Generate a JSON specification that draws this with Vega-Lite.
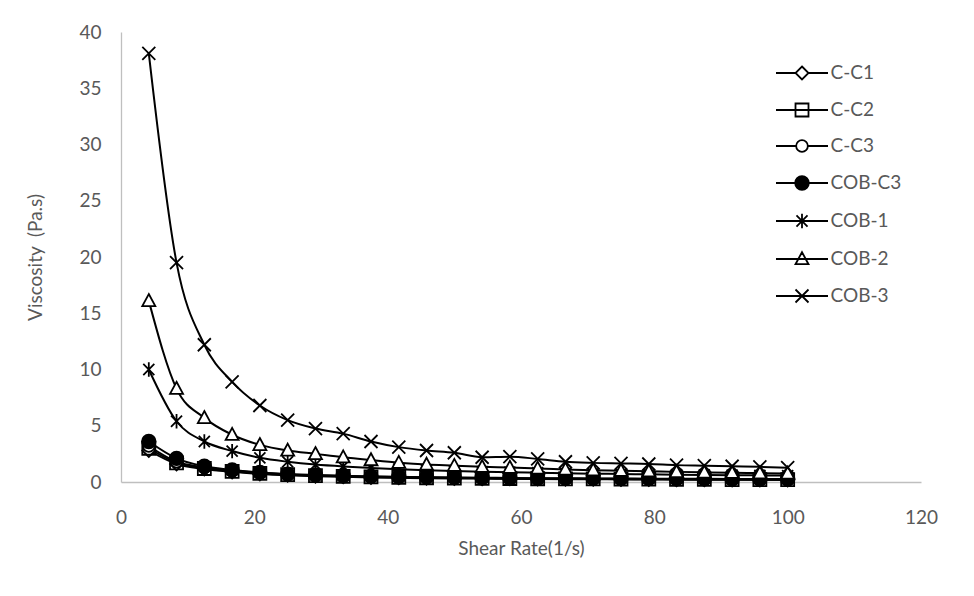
{
 "$schema": "https://vega.github.io/schema/vega-lite/v6.json",
 "width": 800,
 "height": 450,
 "autosize": {"type": "none"},
 "padding": {"left": 121, "top": 32, "right": 53, "bottom": 114},
 "background": "white",
 "config": {"view": {"stroke": null}, "font": "Lato",
  "legend": {"orient": "none", "legendX": 652, "legendY": 31.5, "title": null, "symbolSize": 169, "symbolStrokeColor": "black", "symbolStrokeWidth": 1.8, "labelFontSize": 19, "labelColor": "#595959", "rowPadding": 16, "symbolOffset": 19.5, "labelOffset": 19, "padding": 0}
 },
 "data": {"values": [
  {"s":"C-C1","x":4.17,"y":2.8},{"s":"C-C1","x":8.33,"y":1.6},{"s":"C-C1","x":12.5,"y":1.15},{"s":"C-C1","x":16.67,"y":0.9},{"s":"C-C1","x":20.83,"y":0.72},{"s":"C-C1","x":25,"y":0.6},{"s":"C-C1","x":29.17,"y":0.52},{"s":"C-C1","x":33.33,"y":0.46},{"s":"C-C1","x":37.5,"y":0.41},{"s":"C-C1","x":41.67,"y":0.37},{"s":"C-C1","x":45.83,"y":0.34},{"s":"C-C1","x":50,"y":0.32},{"s":"C-C1","x":54.17,"y":0.3},{"s":"C-C1","x":58.33,"y":0.28},{"s":"C-C1","x":62.5,"y":0.26},{"s":"C-C1","x":66.67,"y":0.25},{"s":"C-C1","x":70.83,"y":0.24},{"s":"C-C1","x":75,"y":0.23},{"s":"C-C1","x":79.17,"y":0.22},{"s":"C-C1","x":83.33,"y":0.21},{"s":"C-C1","x":87.5,"y":0.2},{"s":"C-C1","x":91.67,"y":0.19},{"s":"C-C1","x":95.83,"y":0.19},{"s":"C-C1","x":100,"y":0.18},
  {"s":"C-C2","x":4.17,"y":3.0},{"s":"C-C2","x":8.33,"y":1.7},{"s":"C-C2","x":12.5,"y":1.2},{"s":"C-C2","x":16.67,"y":0.95},{"s":"C-C2","x":20.83,"y":0.77},{"s":"C-C2","x":25,"y":0.65},{"s":"C-C2","x":29.17,"y":0.56},{"s":"C-C2","x":33.33,"y":0.5},{"s":"C-C2","x":37.5,"y":0.45},{"s":"C-C2","x":41.67,"y":0.41},{"s":"C-C2","x":45.83,"y":0.38},{"s":"C-C2","x":50,"y":0.35},{"s":"C-C2","x":54.17,"y":0.33},{"s":"C-C2","x":58.33,"y":0.31},{"s":"C-C2","x":62.5,"y":0.29},{"s":"C-C2","x":66.67,"y":0.28},{"s":"C-C2","x":70.83,"y":0.27},{"s":"C-C2","x":75,"y":0.26},{"s":"C-C2","x":79.17,"y":0.25},{"s":"C-C2","x":83.33,"y":0.24},{"s":"C-C2","x":87.5,"y":0.23},{"s":"C-C2","x":91.67,"y":0.22},{"s":"C-C2","x":95.83,"y":0.21},{"s":"C-C2","x":100,"y":0.21},
  {"s":"C-C3","x":4.17,"y":3.2},{"s":"C-C3","x":8.33,"y":1.8},{"s":"C-C3","x":12.5,"y":1.3},{"s":"C-C3","x":16.67,"y":1.0},{"s":"C-C3","x":20.83,"y":0.82},{"s":"C-C3","x":25,"y":0.7},{"s":"C-C3","x":29.17,"y":0.6},{"s":"C-C3","x":33.33,"y":0.53},{"s":"C-C3","x":37.5,"y":0.48},{"s":"C-C3","x":41.67,"y":0.44},{"s":"C-C3","x":45.83,"y":0.4},{"s":"C-C3","x":50,"y":0.37},{"s":"C-C3","x":54.17,"y":0.35},{"s":"C-C3","x":58.33,"y":0.33},{"s":"C-C3","x":62.5,"y":0.31},{"s":"C-C3","x":66.67,"y":0.3},{"s":"C-C3","x":70.83,"y":0.29},{"s":"C-C3","x":75,"y":0.28},{"s":"C-C3","x":79.17,"y":0.27},{"s":"C-C3","x":83.33,"y":0.26},{"s":"C-C3","x":87.5,"y":0.25},{"s":"C-C3","x":91.67,"y":0.24},{"s":"C-C3","x":95.83,"y":0.23},{"s":"C-C3","x":100,"y":0.23},
  {"s":"COB-C3","x":4.17,"y":3.6},{"s":"COB-C3","x":8.33,"y":2.1},{"s":"COB-C3","x":12.5,"y":1.4},{"s":"COB-C3","x":16.67,"y":1.07},{"s":"COB-C3","x":20.83,"y":0.85},{"s":"COB-C3","x":25,"y":0.7},{"s":"COB-C3","x":29.17,"y":0.62},{"s":"COB-C3","x":33.33,"y":0.55},{"s":"COB-C3","x":37.5,"y":0.5},{"s":"COB-C3","x":41.67,"y":0.46},{"s":"COB-C3","x":45.83,"y":0.43},{"s":"COB-C3","x":50,"y":0.4},{"s":"COB-C3","x":54.17,"y":0.38},{"s":"COB-C3","x":58.33,"y":0.36},{"s":"COB-C3","x":62.5,"y":0.34},{"s":"COB-C3","x":66.67,"y":0.33},{"s":"COB-C3","x":70.83,"y":0.32},{"s":"COB-C3","x":75,"y":0.31},{"s":"COB-C3","x":79.17,"y":0.3},{"s":"COB-C3","x":83.33,"y":0.29},{"s":"COB-C3","x":87.5,"y":0.28},{"s":"COB-C3","x":91.67,"y":0.27},{"s":"COB-C3","x":95.83,"y":0.26},{"s":"COB-C3","x":100,"y":0.26},
  {"s":"COB-1","x":4.17,"y":10.0},{"s":"COB-1","x":8.33,"y":5.4},{"s":"COB-1","x":12.5,"y":3.6},{"s":"COB-1","x":16.67,"y":2.75},{"s":"COB-1","x":20.83,"y":2.15},{"s":"COB-1","x":25,"y":1.8},{"s":"COB-1","x":29.17,"y":1.55},{"s":"COB-1","x":33.33,"y":1.38},{"s":"COB-1","x":37.5,"y":1.25},{"s":"COB-1","x":41.67,"y":1.14},{"s":"COB-1","x":45.83,"y":1.05},{"s":"COB-1","x":50,"y":0.98},{"s":"COB-1","x":54.17,"y":0.92},{"s":"COB-1","x":58.33,"y":0.87},{"s":"COB-1","x":62.5,"y":0.82},{"s":"COB-1","x":66.67,"y":0.78},{"s":"COB-1","x":70.83,"y":0.74},{"s":"COB-1","x":75,"y":0.71},{"s":"COB-1","x":79.17,"y":0.68},{"s":"COB-1","x":83.33,"y":0.65},{"s":"COB-1","x":87.5,"y":0.63},{"s":"COB-1","x":91.67,"y":0.61},{"s":"COB-1","x":95.83,"y":0.59},{"s":"COB-1","x":100,"y":0.57},
  {"s":"COB-2","x":4.17,"y":16.1},{"s":"COB-2","x":8.33,"y":8.3},{"s":"COB-2","x":12.5,"y":5.7},{"s":"COB-2","x":16.67,"y":4.2},{"s":"COB-2","x":20.83,"y":3.3},{"s":"COB-2","x":25,"y":2.8},{"s":"COB-2","x":29.17,"y":2.5},{"s":"COB-2","x":33.33,"y":2.2},{"s":"COB-2","x":37.5,"y":1.95},{"s":"COB-2","x":41.67,"y":1.72},{"s":"COB-2","x":45.83,"y":1.55},{"s":"COB-2","x":50,"y":1.45},{"s":"COB-2","x":54.17,"y":1.35},{"s":"COB-2","x":58.33,"y":1.28},{"s":"COB-2","x":62.5,"y":1.2},{"s":"COB-2","x":66.67,"y":1.12},{"s":"COB-2","x":70.83,"y":1.05},{"s":"COB-2","x":75,"y":1.0},{"s":"COB-2","x":79.17,"y":0.95},{"s":"COB-2","x":83.33,"y":0.9},{"s":"COB-2","x":87.5,"y":0.86},{"s":"COB-2","x":91.67,"y":0.82},{"s":"COB-2","x":95.83,"y":0.79},{"s":"COB-2","x":100,"y":0.76},
  {"s":"COB-3","x":4.17,"y":38.1},{"s":"COB-3","x":8.33,"y":19.5},{"s":"COB-3","x":12.5,"y":12.2},{"s":"COB-3","x":16.67,"y":8.9},{"s":"COB-3","x":20.83,"y":6.8},{"s":"COB-3","x":25,"y":5.5},{"s":"COB-3","x":29.17,"y":4.75},{"s":"COB-3","x":33.33,"y":4.3},{"s":"COB-3","x":37.5,"y":3.6},{"s":"COB-3","x":41.67,"y":3.1},{"s":"COB-3","x":45.83,"y":2.8},{"s":"COB-3","x":50,"y":2.6},{"s":"COB-3","x":54.17,"y":2.2},{"s":"COB-3","x":58.33,"y":2.25},{"s":"COB-3","x":62.5,"y":2.05},{"s":"COB-3","x":66.67,"y":1.8},{"s":"COB-3","x":70.83,"y":1.7},{"s":"COB-3","x":75,"y":1.65},{"s":"COB-3","x":79.17,"y":1.6},{"s":"COB-3","x":83.33,"y":1.5},{"s":"COB-3","x":87.5,"y":1.45},{"s":"COB-3","x":91.67,"y":1.4},{"s":"COB-3","x":95.83,"y":1.35},{"s":"COB-3","x":100,"y":1.27}
 ]},
 "layer": [
  {
   "mark": {"type": "line", "interpolate": "monotone", "stroke": "black", "strokeWidth": 2},
   "encoding": {
    "x": {"field": "x", "type": "quantitative", "scale": {"domain": [0, 120], "nice": false},
     "axis": {"values": [0, 20, 40, 60, 80, 100, 120], "title": "Shear Rate(1/s)", "grid": false, "ticks": false, "domainColor": "#bfbfbf", "domainWidth": 1.3, "labelFontSize": 19, "labelColor": "#595959", "labelPadding": 26, "labelFlush": false, "titleFontSize": 19, "titleColor": "#595959", "titleFontWeight": "normal", "titlePadding": 12}},
    "y": {"field": "y", "type": "quantitative", "scale": {"domain": [0, 40], "nice": false},
     "axis": {"values": [0, 5, 10, 15, 20, 25, 30, 35, 40], "title": "Viscosity\u00a0 (Pa.s)", "grid": false, "ticks": false, "domainColor": "#bfbfbf", "domainWidth": 1.3, "labelFontSize": 19, "labelColor": "#595959", "labelPadding": 20, "labelFlush": false, "titleFontSize": 19, "titleColor": "#595959", "titleFontWeight": "normal", "titlePadding": 33}},
    "detail": {"field": "s", "type": "nominal"}
   }
  },
  {
   "mark": {"type": "point", "filled": true, "size": 169, "stroke": "black", "strokeWidth": 1.8, "opacity": 1},
   "encoding": {
    "x": {"field": "x", "type": "quantitative"},
    "y": {"field": "y", "type": "quantitative"},
    "shape": {"field": "s", "type": "nominal", "legend": null,
     "scale": {"domain": ["C-C1", "C-C2", "C-C3", "COB-C3", "COB-1", "COB-2", "COB-3"],
      "range": ["M0,-1L1,0L0,1L-1,0Z", "M-1,-1L1,-1L1,1L-1,1Z", "M-0.9,0A0.9,0.9,0,1,1,0.9,0A0.9,0.9,0,1,1,-0.9,0Z", "M-1.05,0A1.05,1.05,0,1,1,1.05,0A1.05,1.05,0,1,1,-1.05,0Z", "M-0.85,-0.85L0.85,0.85M-0.85,0.85L0.85,-0.85M0,-1.1L0,1.1", "M0,-1.05L1,0.8L-1,0.8Z", "M-1,-1L1,1M-1,1L1,-1"]}},
    "fill": {"field": "s", "type": "nominal", "legend": null,
     "scale": {"domain": ["C-C1", "C-C2", "C-C3", "COB-C3", "COB-1", "COB-2", "COB-3"],
      "range": ["white", "transparent", "white", "black", "white", "white", "white"]}}
   }
  },
  {
   "transform": [{"filter": "false"}],
   "mark": {"type": "point", "filled": false, "size": 169, "stroke": "black", "strokeWidth": 1.8, "opacity": 1},
   "encoding": {
    "shape": {"field": "s", "type": "nominal",
     "legend": {"title": null, "encode": {"symbols": {"update": {"stroke": {"value": "black"}, "strokeWidth": {"value": 1.8}, "opacity": {"value": 1}}}}},
     "scale": {"domain": ["C-C1", "C-C2", "C-C3", "COB-C3", "COB-1", "COB-2", "COB-3"],
      "range": ["M-4,0L-1,0M1,0L4,0M0,-1L1,0L0,1L-1,0Z", "M-4,0L4,0M-1,-1L1,-1L1,1L-1,1Z", "M-4,0L-0.9,0M0.9,0L4,0M-0.9,0A0.9,0.9,0,1,1,0.9,0A0.9,0.9,0,1,1,-0.9,0Z", "M-4,0L4,0M-1.05,0A1.05,1.05,0,1,1,1.05,0A1.05,1.05,0,1,1,-1.05,0ZM-0.8,0A0.8,0.8,0,1,1,0.8,0A0.8,0.8,0,1,1,-0.8,0ZM-0.55,0A0.55,0.55,0,1,1,0.55,0A0.55,0.55,0,1,1,-0.55,0ZM-0.3,0A0.3,0.3,0,1,1,0.3,0A0.3,0.3,0,1,1,-0.3,0ZM-0.1,0L0.1,0M0,-0.1L0,0.1", "M-4,0L4,0M-0.85,-0.85L0.85,0.85M-0.85,0.85L0.85,-0.85M0,-1.1L0,1.1", "M-4,0L4,0M0,-1.05L1,0.8L-1,0.8Z", "M-4,0L4,0M-1,-1L1,1M-1,1L1,-1"]}}
   }
  }
 ],
 "resolve": {"scale": {"shape": "independent", "fill": "independent"}}
}
